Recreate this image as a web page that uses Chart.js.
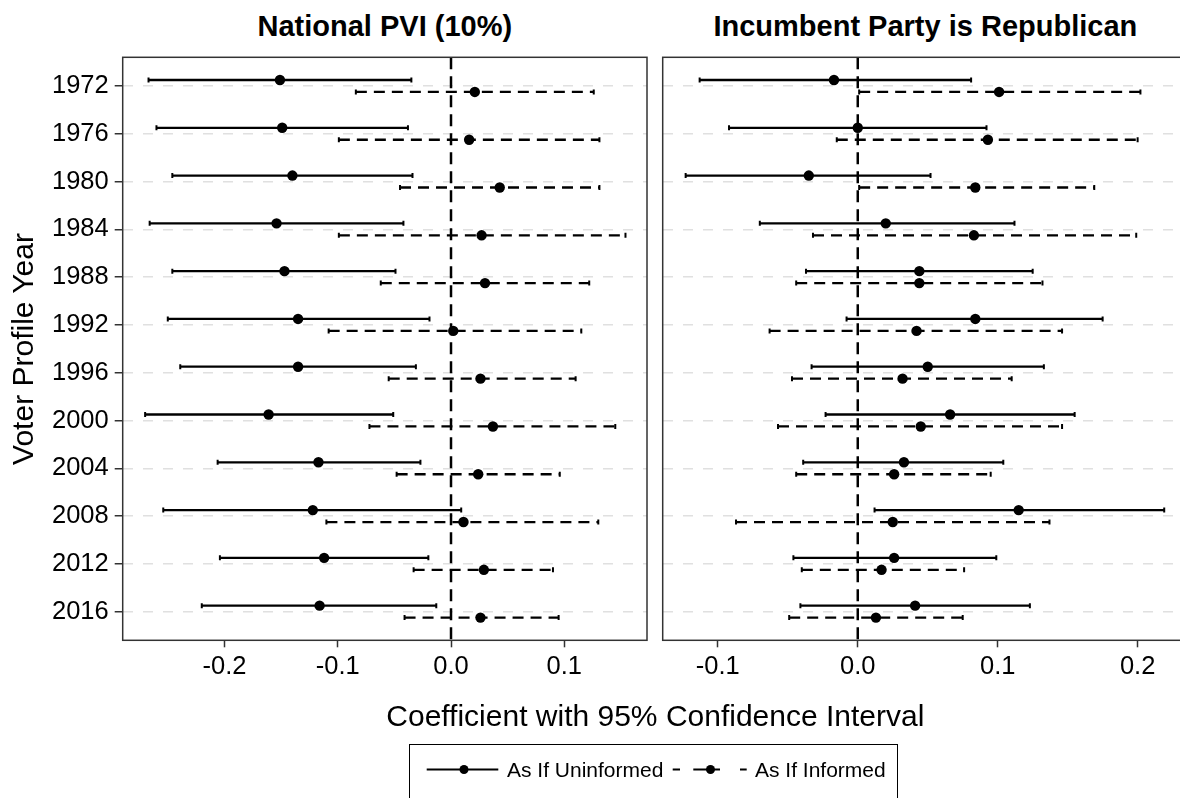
<!DOCTYPE html>
<html lang="en">
<head>
<meta charset="UTF-8" />
<title>Voter Profile Year coefficients</title>
<script src="https://cdn.jsdelivr.net/npm/chart.js@4.4.1/dist/chart.umd.min.js"></script>
<style>
  html, body { margin: 0; padding: 0; background: #fff; overflow: hidden; }
  body { width: 1180px; height: 798px; position: relative; font-family: "Liberation Sans", Arial, sans-serif; color: #000; }
  canvas { position: absolute; top: 0; }
  #left { left: 0; }
  #right { left: 655px; }
  .strip { position: absolute; top: 11.5px; height: 29px; line-height: 29px; font-size: 29px; font-weight: bold; text-align: center; white-space: nowrap; }
  .axis-title { position: absolute; height: 30px; line-height: 30px; font-size: 30px; text-align: center; white-space: nowrap; }
  #legend { position: absolute; left: 409px; top: 744px; width: 489px; height: 70px; border: 1.5px solid #000; box-sizing: border-box; }
  .key-label { position: absolute; top: 758.5px; font-size: 21px; line-height: 21px; white-space: nowrap; }
  svg { position: absolute; left: 0; top: 0; }
</style>
</head>
<body>
  <div class="strip" style="left:122.7px; width:524.3px;">National PVI (10%)</div>
  <div class="strip" style="left:662.7px; width:525.3px;">Incumbent Party is Republican</div>

  <canvas id="left" width="660" height="700"></canvas>
  <canvas id="right" width="540" height="700"></canvas>

  <div class="axis-title" style="left:122.7px; width:1065.3px; top:700.5px;">Coefficient with 95% Confidence Interval</div>
  <div class="axis-title" style="left:-277px; width:600px; top:333.5px; transform:rotate(-90deg);">Voter Profile Year</div>

  <div id="legend"></div>
  <svg width="1180" height="798">
    <line x1="426.7" y1="769.5" x2="498.3" y2="769.5" stroke="#000" stroke-width="2.2" />
    <circle cx="464" cy="769.5" r="4.5" fill="#000" />
    <line x1="672.7" y1="769.5" x2="746.7" y2="769.5" stroke="#000" stroke-width="2.2" stroke-dasharray="7.3 13.3 26.7 20 6.7" />
    <circle cx="710.5" cy="769.5" r="4.5" fill="#000" />
  </svg>
  <div class="key-label" style="left:507px;">As If Uninformed</div>
  <div class="key-label" style="left:755px;">As If Informed</div>

<script>
  const years = ["1972", "1976", "1980", "1984", "1988", "1992", "1996", "2000", "2004", "2008", "2012", "2016"];

  // National PVI (10%)
  const pviUninfLo  = [-0.267, -0.260, -0.246, -0.266, -0.246, -0.250, -0.239, -0.270, -0.206, -0.254, -0.204, -0.220];
  const pviUninfEst = [-0.151, -0.149, -0.140, -0.154, -0.147, -0.135, -0.135, -0.161, -0.117, -0.122, -0.112, -0.116];
  const pviUninfHi  = [-0.035, -0.038, -0.034, -0.042, -0.049, -0.019, -0.031, -0.051, -0.027, 0.009, -0.020, -0.013];
  const pviInfLo    = [-0.084, -0.099, -0.045, -0.099, -0.062, -0.108, -0.055, -0.072, -0.048, -0.110, -0.033, -0.041];
  const pviInfEst   = [0.021, 0.016, 0.043, 0.027, 0.030, 0.002, 0.026, 0.037, 0.024, 0.011, 0.029, 0.026];
  const pviInfHi    = [0.126, 0.131, 0.131, 0.154, 0.122, 0.115, 0.110, 0.145, 0.096, 0.130, 0.090, 0.095];

  // Incumbent Party is Republican
  const repUninfLo  = [-0.113, -0.092, -0.123, -0.070, -0.037, -0.008, -0.033, -0.023, -0.039, 0.012, -0.046, -0.041];
  const repUninfEst = [-0.017, 0.000, -0.035, 0.020, 0.044, 0.084, 0.050, 0.066, 0.033, 0.115, 0.026, 0.041];
  const repUninfHi  = [0.081, 0.092, 0.052, 0.112, 0.125, 0.175, 0.133, 0.155, 0.104, 0.219, 0.099, 0.123];
  const repInfLo    = [0.001, -0.015, 0.001, -0.032, -0.044, -0.063, -0.047, -0.057, -0.044, -0.087, -0.040, -0.049];
  const repInfEst   = [0.101, 0.093, 0.084, 0.083, 0.044, 0.042, 0.032, 0.045, 0.026, 0.025, 0.017, 0.013];
  const repInfHi    = [0.202, 0.200, 0.169, 0.199, 0.132, 0.146, 0.110, 0.146, 0.095, 0.137, 0.076, 0.075];

  const leftTicks = [-0.2, -0.1, 0.0, 0.1];
  const rightTicks = [-0.1, 0.0, 0.1, 0.2];

  Chart.defaults.font.family = '"Liberation Sans", Arial, sans-serif';
  Chart.defaults.color = "#000";

  const dodge = 0.125;

  // panel border all around, like theme_bw
  const frame = {
    id: "frame",
    afterDraw(chart) {
      const a = chart.chartArea;
      const ctx = chart.ctx;
      ctx.save();
      ctx.strokeStyle = "#333";
      ctx.lineWidth = 1.5;
      ctx.strokeRect(a.left, a.top, a.right - a.left, a.bottom - a.top);
      ctx.restore();
    }
  };

  function barSets(lo, hi, offset, dash) {
    return years.map((yr, i) => ({
      data: [{ x: lo[i], y: i + offset }, { x: hi[i], y: i + offset }],
      showLine: true,
      borderColor: "#000",
      borderWidth: 2.3,
      borderDash: dash,
      pointStyle: "line",
      pointRotation: 90,
      pointRadius: 2.5,
      pointBorderWidth: 2,
      pointBorderColor: "#000",
      order: 2
    }));
  }

  function pointSet(est, offset) {
    return {
      data: years.map((yr, i) => ({ x: est[i], y: i + offset })),
      pointRadius: 5.2,
      pointBackgroundColor: "#000",
      pointBorderColor: "#000",
      pointBorderWidth: 0,
      order: 1
    };
  }

  function makePanel(id, p) {
    const zero = {
      data: [{ x: 0, y: -0.6 }, { x: 0, y: 11.6 }],
      showLine: true,
      borderColor: "#000",
      borderWidth: 2.5,
      borderDash: [12, 7],
      pointRadius: 0,
      order: 3
    };
    const datasets = [zero]
      .concat(barSets(p.uLo, p.uHi, -dodge, []))
      .concat(barSets(p.iLo, p.iHi, dodge, [11, 7]))
      .concat([pointSet(p.uEst, -dodge), pointSet(p.iEst, dodge)]);

    new Chart(document.getElementById(id), {
      type: "scatter",
      data: { datasets: datasets },
      plugins: [frame],
      options: {
        responsive: false,
        animation: false,
        events: [],
        layout: { padding: p.padding },
        plugins: { legend: { display: false }, tooltip: { enabled: false } },
        scales: {
          x: {
            type: "linear",
            min: p.xMin,
            max: p.xMax,
            afterBuildTicks: (s) => { s.ticks = p.ticks.map((v) => ({ value: v })); },
            afterFit: (s) => { s.height = 59.7; },
            ticks: { font: { size: 25.5 }, padding: 4, maxRotation: 0, autoSkip: false, callback: (v) => v.toFixed(1) },
            grid: { drawOnChartArea: false, tickLength: 7, tickColor: "#333", tickWidth: 1.5 },
            border: { display: false }
          },
          y: {
            type: "linear",
            reverse: true,
            min: -0.6,
            max: 11.6,
            afterBuildTicks: (s) => { s.ticks = years.map((yr, i) => ({ value: i })); },
            afterFit: (s) => { s.width = p.yWidth; },
            ticks: { display: p.showY, font: { size: 25.5 }, padding: 6, callback: (v) => years[v] },
            grid: { color: "#e0e0e0", lineWidth: 1.5, drawTicks: p.showY, tickLength: 8, tickColor: "#333", tickWidth: 1.5, tickBorderDash: [] },
            border: { display: false, dash: [10, 10] }
          }
        }
      }
    });
  }

  makePanel("left", {
    uLo: pviUninfLo, uEst: pviUninfEst, uHi: pviUninfHi,
    iLo: pviInfLo, iEst: pviInfEst, iHi: pviInfHi,
    xMin: -0.2898, xMax: 0.1730, ticks: leftTicks,
    showY: true, yWidth: 122.7,
    padding: { top: 57.3, right: 13, bottom: 0, left: 0 }
  });

  makePanel("right", {
    uLo: repUninfLo, uEst: repUninfEst, uHi: repUninfHi,
    iLo: repInfLo, iEst: repInfEst, iHi: repInfHi,
    xMin: -0.1394, xMax: 0.236, ticks: rightTicks,
    showY: false, yWidth: 0,
    padding: { top: 57.3, right: 7, bottom: 0, left: 7.7 }
  });
</script>
</body>
</html>
